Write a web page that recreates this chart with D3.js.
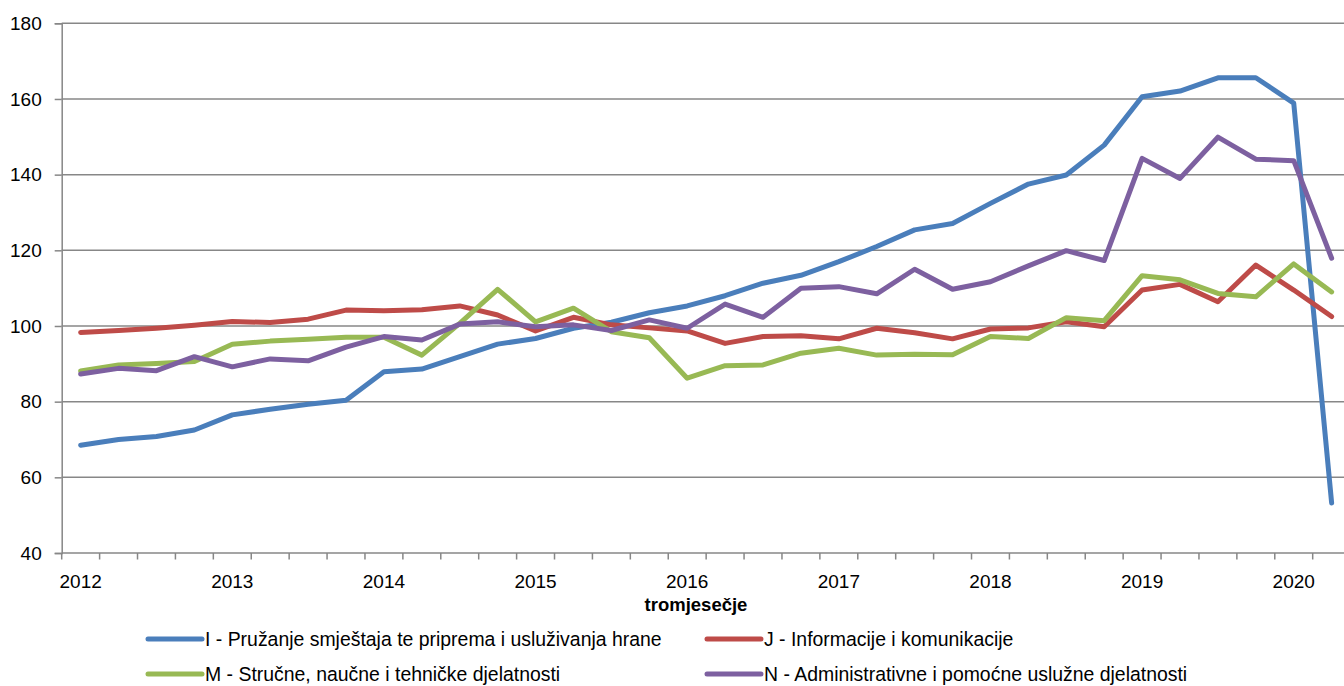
<!DOCTYPE html>
<html>
<head>
<meta charset="utf-8">
<script src="https://cdn.jsdelivr.net/npm/d3@7"></script>
<style>
  html, body { margin: 0; padding: 0; background: #fff; overflow: hidden; }
  svg { display: block; }
  text { font-family: "Liberation Sans", Arial, sans-serif; fill: #000; }
</style>
</head>
<body>
<svg id="chart" width="1344" height="686"></svg>
<script>
// ---- data ----
const quarters = [
  "2012 Q1","2012 Q2","2012 Q3","2012 Q4",
  "2013 Q1","2013 Q2","2013 Q3","2013 Q4",
  "2014 Q1","2014 Q2","2014 Q3","2014 Q4",
  "2015 Q1","2015 Q2","2015 Q3","2015 Q4",
  "2016 Q1","2016 Q2","2016 Q3","2016 Q4",
  "2017 Q1","2017 Q2","2017 Q3","2017 Q4",
  "2018 Q1","2018 Q2","2018 Q3","2018 Q4",
  "2019 Q1","2019 Q2","2019 Q3","2019 Q4",
  "2020 Q1","2020 Q2"
];
const yearLabels = ["2012","2013","2014","2015","2016","2017","2018","2019","2020"];
const yTicks = [40, 60, 80, 100, 120, 140, 160, 180];
const xAxisTitle = "tromjesečje";

const seriesNames = [
  "I - Pružanje smještaja te priprema i usluživanja hrane",
  "J - Informacije i komunikacije",
  "M - Stručne, naučne i tehničke djelatnosti",
  "N - Administrativne i pomoćne uslužne djelatnosti"
];
const valuesI = [68.5, 70.0, 70.8, 72.5, 76.5, 78.0, 79.3, 80.4, 87.9, 88.6,
                 91.9, 95.2, 96.7, 99.4, 101.0, 103.5, 105.3, 108.0, 111.3, 113.4,
                 117.0, 121.0, 125.4, 127.1, 132.4, 137.5, 139.9, 147.8, 160.6, 162.1,
                 165.6, 165.6, 158.9, 53.2];
const valuesJ = [98.3, 98.8, 99.4, 100.2, 101.2, 100.9, 101.8, 104.2, 104.0, 104.3,
                 105.3, 102.9, 98.7, 102.3, 100.3, 99.5, 98.7, 95.4, 97.2, 97.4,
                 96.6, 99.4, 98.2, 96.6, 99.2, 99.5, 101.1, 99.8, 109.5, 111.0,
                 106.4, 116.1, 109.5, 102.5];
const valuesM = [88.1, 89.7, 90.1, 90.6, 95.2, 96.0, 96.5, 97.0, 97.0, 92.3,
                 100.7, 109.7, 101.1, 104.7, 98.5, 96.9, 86.2, 89.5, 89.7, 92.8,
                 94.1, 92.3, 92.5, 92.4, 97.2, 96.7, 102.2, 101.4, 113.3, 112.2,
                 108.6, 107.7, 116.4, 109.0];
const valuesN = [87.3, 88.8, 88.2, 91.9, 89.2, 91.3, 90.8, 94.4, 97.2, 96.3,
                 100.5, 101.1, 99.8, 100.3, 98.8, 101.6, 99.4, 105.8, 102.3, 110.0,
                 110.4, 108.5, 115.0, 109.7, 111.7, 115.9, 119.9, 117.3, 144.3, 139.0,
                 149.9, 144.1, 143.7, 117.9];
const seriesColors = ["#4a7ebb", "#be4b48", "#98b954", "#7d60a0"];

const series = [valuesI, valuesJ, valuesM, valuesN].map((v, k) => ({
  name: seriesNames[k], color: seriesColors[k], values: v
}));

// ---- layout ----
const svg = d3.select("#chart");
const plotLeft = 61.7, plotRight = 1350.6, plotTop = 23.3, plotBottom = 553;
const gridColor = "#878787";

const x = d3.scaleBand().domain(quarters).range([plotLeft, plotRight]).paddingInner(0).paddingOuter(0);
const xEdge = d3.scaleLinear().domain([0, quarters.length]).range([plotLeft, plotRight]);
const y = d3.scaleLinear().domain([40, 180]).range([plotBottom, plotTop]);

// gridlines
svg.append("g").selectAll("line")
  .data(yTicks.filter(t => t > 40))
  .join("line")
  .attr("x1", plotLeft).attr("x2", 1344)
  .attr("y1", d => y(d)).attr("y2", d => y(d))
  .attr("stroke", gridColor).attr("stroke-width", 1.5);

// y axis
const yAxis = d3.axisLeft(y).tickValues(yTicks).tickSize(7).tickPadding(13).tickFormat(d3.format("d"));
const gy = svg.append("g").attr("transform", `translate(${plotLeft},0)`).call(yAxis);
gy.select(".domain").attr("stroke", gridColor).attr("stroke-width", 1.5);
gy.selectAll(".tick line").attr("stroke", gridColor).attr("stroke-width", 1.5);
gy.selectAll(".tick text").style("font-size", "19px").style("font-family", '"Liberation Sans", Arial, sans-serif').attr("fill", "#000");

// x axis: ticks at category boundaries
const gx = svg.append("g").attr("transform", `translate(0,${plotBottom})`);
gx.append("line").attr("x1", plotLeft).attr("x2", 1344).attr("y1", 0).attr("y2", 0)
  .attr("stroke", gridColor).attr("stroke-width", 1.5);
gx.selectAll("line.tk").data(d3.range(quarters.length + 1)).join("line").attr("class", "tk")
  .attr("x1", d => xEdge(d)).attr("x2", d => xEdge(d)).attr("y1", 0).attr("y2", 6.5)
  .attr("stroke", gridColor).attr("stroke-width", 1.5);
const labelQuarters = quarters.filter(q => q.endsWith("Q1"));
gx.selectAll("text.yr").data(labelQuarters).join("text").attr("class", "yr")
  .attr("x", d => x(d) + x.bandwidth() / 2)
  .attr("y", 35)
  .attr("text-anchor", "middle")
  .style("font-size", "19px")
  .text((d, i) => yearLabels[i]);

// axis title
svg.append("text").attr("x", 696).attr("y", 611)
  .attr("text-anchor", "middle")
  .style("font-size", "18.5px").style("font-weight", "bold")
  .text(xAxisTitle);

// lines
const line = d3.line()
  .x((d, i) => x(quarters[i]) + x.bandwidth() / 2)
  .y(d => y(d));
svg.append("g").selectAll("path")
  .data(series)
  .join("path")
  .attr("d", d => line(d.values))
  .attr("fill", "none")
  .attr("stroke", d => d.color)
  .attr("stroke-width", 5)
  .attr("stroke-linejoin", "round")
  .attr("stroke-linecap", "round");

// legend
const legendPos = [
  {lx: 148, ty: 639}, {lx: 707, ty: 639},
  {lx: 148, ty: 674}, {lx: 707, ty: 674}
];
const lg = svg.append("g").selectAll("g").data(series).join("g")
  .attr("transform", (d, i) => `translate(${legendPos[i].lx},${legendPos[i].ty})`);
lg.append("line").attr("x1", 0).attr("x2", 54).attr("y1", 0).attr("y2", 0)
  .attr("stroke", d => d.color).attr("stroke-width", 5).attr("stroke-linecap", "round");
const lt = lg.append("text").attr("x", 57).attr("y", 0).attr("dy", "0.35em")
  .style("font-size", "19px")
  .text(d => d.name);
// fit legend font-size so that the first item spans the reference width
const w0 = lt.nodes()[0].getComputedTextLength();
const fs = 19 * 457 / w0;
lt.style("font-size", fs + "px");
</script>
</body>
</html>
